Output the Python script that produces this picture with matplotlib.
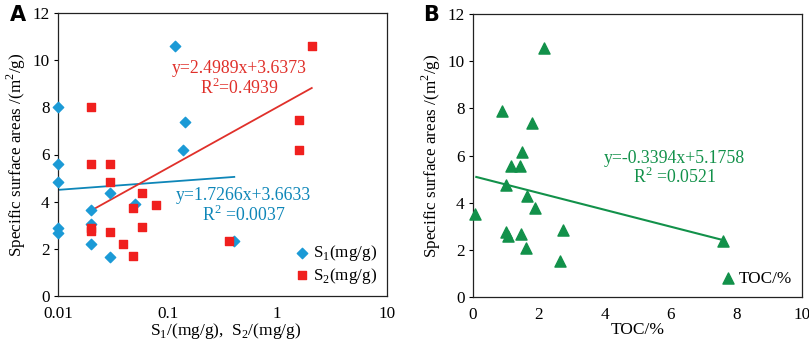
import matplotlib.pyplot as plt

plt.rcParams['font.family'] = ['Liberation Serif', 'DejaVu Serif']
plt.rcParams['mathtext.fontset'] = 'custom'
plt.rcParams['mathtext.rm'] = 'Liberation Serif'

# panel A: S1 / S2 vs specific surface area
s1_x = [0.01, 0.01, 0.01, 0.01, 0.01, 0.02, 0.02, 0.02, 0.03, 0.03, 0.05,
        0.116, 0.137, 0.144, 0.405]
s1_y = [8.0, 5.6, 4.83, 2.87, 2.69, 3.64, 3.06, 2.19, 4.36, 1.67, 3.9,
        10.61, 6.2, 7.39, 2.35]
s2_x = [0.02, 0.02, 0.02, 0.02, 0.03, 0.03, 0.03, 0.039, 0.048, 0.048,
        0.058, 0.058, 0.078, 0.36, 1.58, 1.58, 2.06]
s2_y = [8.0, 5.6, 2.9, 2.76, 5.58, 4.85, 2.7, 2.19, 3.72, 1.71,
        4.36, 2.94, 3.86, 2.35, 6.2, 7.46, 10.61]
s1_fit_x = [0.01, 0.405]
s1_fit_y = [4.5, 5.05]
s2_fit_x = [0.02, 2.06]
s2_fit_y = [3.62, 8.82]

# panel B: TOC vs specific surface area
toc_x = [0.07, 0.88, 1.0, 1.0, 1.05, 1.14, 1.42, 1.47, 1.50, 1.6, 1.64,
         1.80, 1.88, 2.16, 2.63, 2.73, 7.61]
toc_y = [3.54, 7.9, 4.77, 2.76, 2.58, 5.56, 5.56, 2.69, 6.13, 2.07, 4.29,
         7.37, 3.79, 10.57, 1.51, 2.86, 2.36]
toc_fit_x = [0.1, 7.61]
toc_fit_y = [5.09, 2.41]

blue = '#1B9AD6'
blue_line = '#0E86B8'
red = '#F0201E'
red_line = '#E0302A'
green = '#12914A'

fig = plt.figure(figsize=(8.09, 3.41), dpi=100)
W, H = 809, 341
axA = fig.add_axes([58 / W, 1 - 296 / H, 329 / W, 283 / H])
axB = fig.add_axes([473 / W, 1 - 297 / H, 329 / W, 283 / H])

ylab = 'Specific surface areas /(m$^{2}$/g)'
fs = 12.3
fs_eq = 12.8

for ax in (axA, axB):
    ax.set_ylim(0, 12)
    ax.set_yticks(range(0, 13, 2))
    ax.tick_params(axis='y', direction='out', length=3, width=0.8, labelsize=fs, pad=3)
    ax.tick_params(axis='x', length=0, labelsize=fs, pad=7)
    for sp in ax.spines.values():
        sp.set_linewidth(0.9)
        sp.set_color('#222222')
    ax.set_ylabel(ylab, fontsize=fs, labelpad=3)

# A
axA.set_xscale('log')
axA.set_xlim(0.01, 10)
axA.set_xticks([0.01, 0.1, 1, 10])
axA.set_xticklabels(['0.01', '0.1', '1', '10'])
axA.minorticks_off()
axA.plot(s1_fit_x, s1_fit_y, color=blue_line, lw=1.3, zorder=2)
axA.plot(s2_fit_x, s2_fit_y, color=red_line, lw=1.3, zorder=2)
axA.scatter(s1_x, s1_y, marker='D', s=28, color=blue, zorder=3, clip_on=False,
            label='S$_{\\mathrm{1}}$(mg/g)')
axA.scatter(s2_x, s2_y, marker='s', s=38, color=red, zorder=4,
            label='S$_{\\mathrm{2}}$(mg/g)')
axA.text(0.55, 0.766, 'y=2.4989x+3.6373\nR$^{2}$=0.4939', transform=axA.transAxes,
         color=red_line, fontsize=fs_eq, ha='center', va='center', linespacing=1.05)
axA.text(0.565, 0.318, 'y=1.7266x+3.6633\nR$^{2}$ =0.0037', transform=axA.transAxes,
         color=blue_line, fontsize=fs_eq, ha='center', va='center', linespacing=1.05)
axA.set_xlabel('S$_{\\mathrm{1}}$/(mg/g),  S$_{\\mathrm{2}}$/(mg/g)', fontsize=12.5)
axA.xaxis.set_label_coords(0.51, -0.09)
axA.legend(loc='lower right', frameon=False, fontsize=fs, handletextpad=0.1,
           borderaxespad=0.2, labelspacing=0.15, handlelength=1.0, markerscale=1.0)

# B
axB.set_xlim(0, 10)
axB.set_xticks(range(0, 11, 2))
axB.plot(toc_fit_x, toc_fit_y, color=green, lw=1.5, zorder=2)
axB.scatter(toc_x, toc_y, marker='^', s=64, color=green, zorder=3, clip_on=False,
            label='TOC/%')
axB.text(0.612, 0.454, 'y=-0.3394x+5.1758\nR$^{2}$ =0.0521', transform=axB.transAxes,
         color=green, fontsize=fs_eq, ha='center', va='center', linespacing=1.05)
axB.set_xlabel('TOC/%', fontsize=12.5)
axB.xaxis.set_label_coords(0.5, -0.09)
axB.legend(loc='lower right', frameon=False, fontsize=fs, handletextpad=0.1,
           borderaxespad=0.2, handlelength=1.0)

fig.text(10 / W, 1 - 15 / H, 'A', fontsize=15, fontweight='bold', family='DejaVu Sans',
         ha='left', va='center')
fig.text(423 / W, 1 - 15 / H, 'B', fontsize=15, fontweight='bold', family='DejaVu Sans',
         ha='left', va='center')

fig.savefig('out.png', dpi=100)
